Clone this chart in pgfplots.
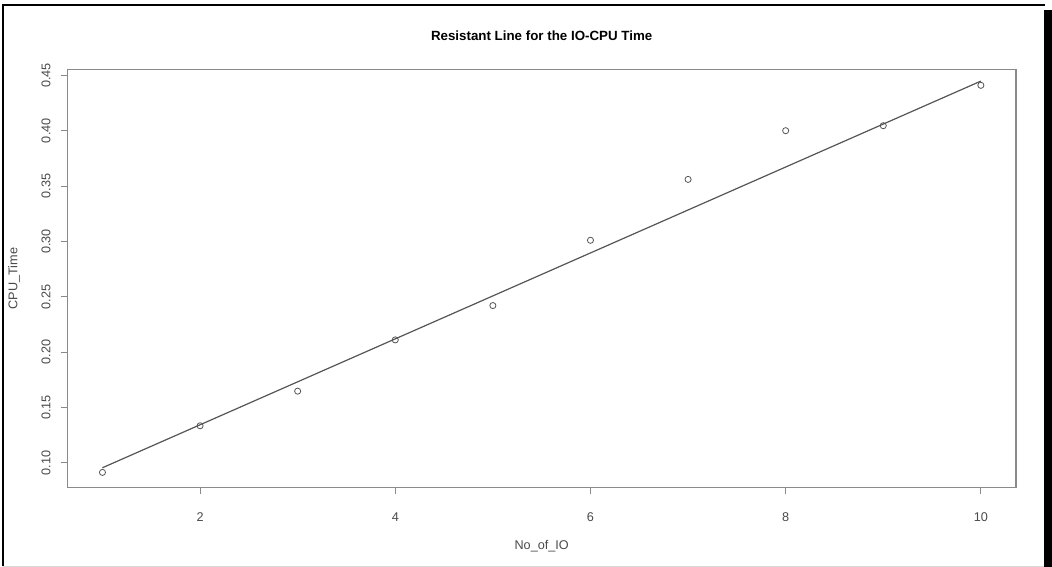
\documentclass[border=0pt]{standalone}
\usepackage{fontspec}
\setmainfont{Liberation Sans}
\usepackage{pgfplots}
\pgfplotsset{compat=1.18}
\definecolor{axgray}{HTML}{8A8A8A}
\definecolor{txtgray}{HTML}{4A4A4A}
\definecolor{lngray}{HTML}{555555}
\begin{document}
\begin{tikzpicture}
% picture frame (1052x567 px at 0.75pt/px)
\path[use as bounding box] (0,0) rectangle (789pt,425.25pt);
\fill[white] (0,0) rectangle (789pt,425.25pt);
\draw[black,line width=1.5pt] (2pt,0.5pt) -- (2pt,421.5pt) -- (783.5pt,421.5pt);
\fill[black] (783pt,0pt) rectangle (789pt,417.5pt);
\draw[black!15,line width=0.8pt] (2pt,0.5pt) -- (783pt,0.5pt);
\begin{axis}[
  at={(50.5pt,59.5pt)}, anchor=south west,
  scale only axis, width=711.5pt, height=313.8pt,
  xmin=0.64, xmax=10.36, ymin=0.0775, ymax=0.4555,
  axis line style={axgray, line width=0.8pt},
  tick style={axgray, line width=0.8pt},
  tick align=outside, major tick length=5pt,
  xtick={2,4,6,8,10},
  ytick={0.10,0.15,0.20,0.25,0.30,0.35,0.40,0.45},
  xtick pos=bottom, ytick pos=left,
  /pgf/number format/assume math mode=true,
  yticklabel style={/pgf/number format/fixed, /pgf/number format/fixed zerofill, /pgf/number format/precision=2},
  yticklabel style={rotate=90, anchor=south, font=\fontsize{9.5}{11}\selectfont, text=txtgray},
  xticklabel style={font=\fontsize{9.5}{11}\selectfont, text=txtgray},
  yticklabel shift={4pt},
  xticklabel shift={10pt},
  xlabel={No\_of\_IO}, ylabel={CPU\_Time},
  xlabel style={at={(axis description cs:0.5,-0.14)}, anchor=center, font=\fontsize{9.5}{11}\selectfont, text=txtgray},
  ylabel style={at={(axis description cs:-0.0562,0.5)}, anchor=center, font=\fontsize{9.5}{11}\selectfont, text=txtgray},
  title={\textbf{Resistant Line for the IO-CPU Time}},
  title style={at={(axis description cs:0.5,1.06)}, anchor=center, font=\fontsize{10}{12}\selectfont},
  clip=false,
]
\addplot[only marks, mark=o, mark size=2.3pt, mark options={lngray, line width=0.6pt}] coordinates {
 (1,0.0913) (2,0.1334) (3,0.1647) (4,0.2110) (5,0.2420)
 (6,0.3010) (7,0.3560) (8,0.4000) (9,0.4045) (10,0.4410)
};
\addplot[lngray, line width=0.9pt] coordinates {
 (1,0.0955) (10,0.4448)
};
\end{axis}
\end{tikzpicture}
\end{document}
